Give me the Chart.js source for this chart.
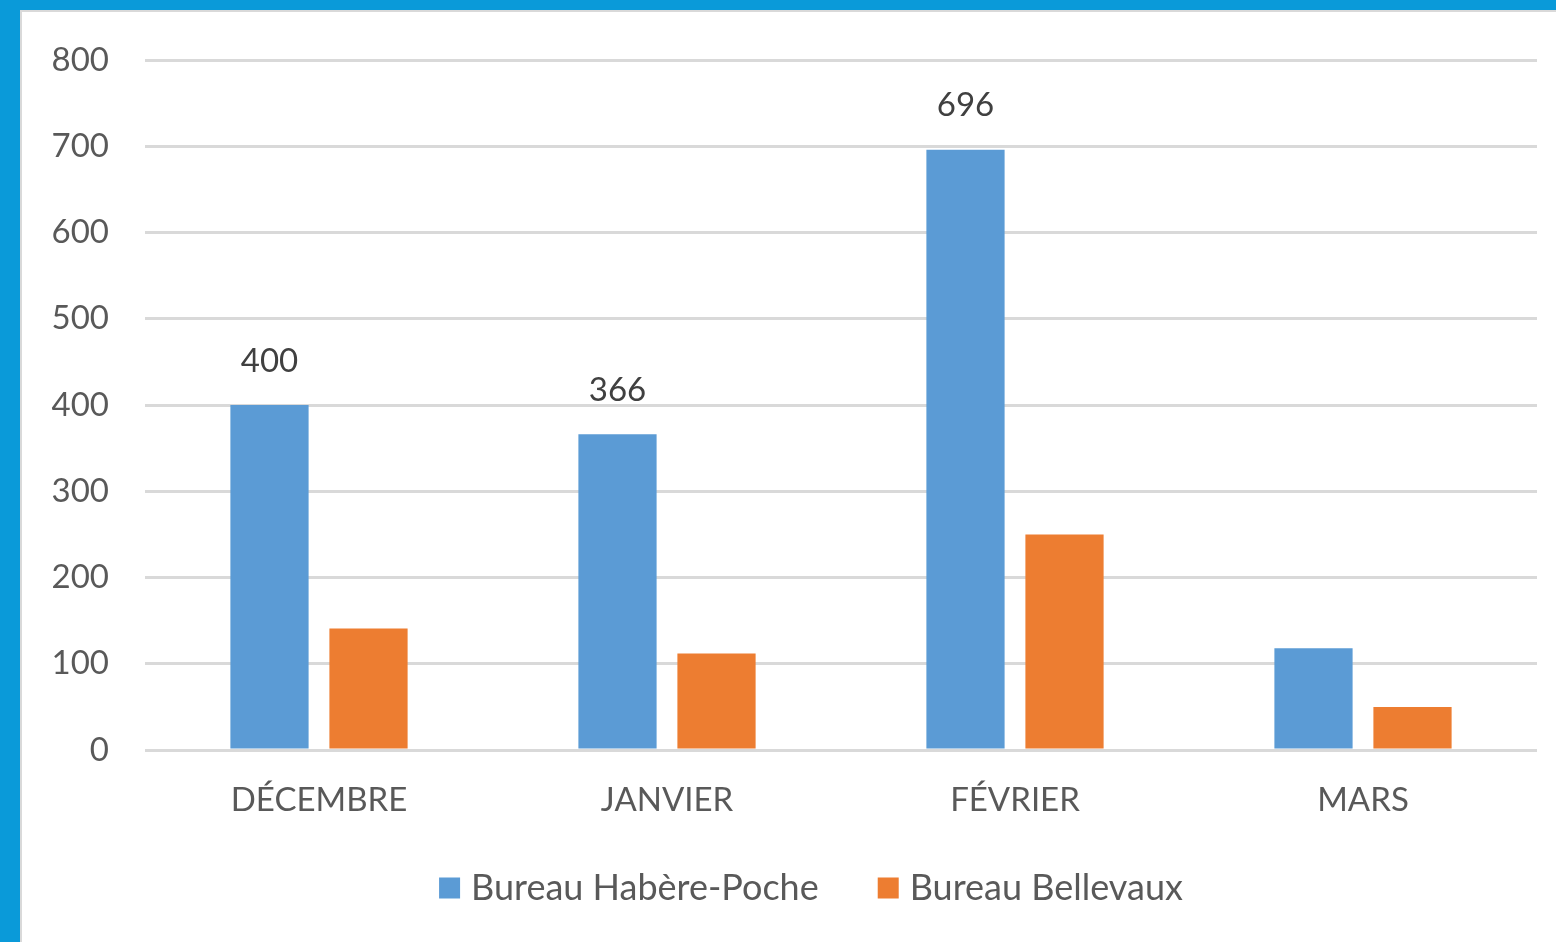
<!DOCTYPE html>
<html>
<head>
<meta charset="utf-8">
<script src="https://cdn.jsdelivr.net/npm/chart.js@4.4.1/dist/chart.umd.min.js"></script>
<style>
  html, body { margin: 0; padding: 0; width: 1556px; height: 942px; overflow: hidden; background: #0A9AD9; }
  #frame { position: absolute; left: 20px; top: 10px; width: 1536px; height: 932px; background: #D9D9D9; }
  #inner { position: absolute; left: 2px; top: 2px; width: 1534px; height: 930px; background: #FFFFFF; }
  canvas { display: block; }
</style>
</head>
<body>
<div id="frame"><div id="inner"><canvas id="c" width="1534" height="930"></canvas></div></div>
<script>
const categories = ["DÉCEMBRE", "JANVIER", "FÉVRIER", "MARS"];
const seriesNames = ["Bureau Habère-Poche", "Bureau Bellevaux"];
const habereValues = [400, 366, 696, 118];
const bellevauxValues = [141, 112, 250, 50];
const habereShowLabel = [true, true, true, false];
const yTicks = [0, 100, 200, 300, 400, 500, 600, 700, 800];

const FONT = "Lato, 'Open Sans', sans-serif";
const TEXT = "#595959";

const valueLabels = {
  id: 'valueLabels',
  afterDatasetsDraw(chart) {
    const ctx = chart.ctx;
    const meta = chart.getDatasetMeta(0);
    ctx.save();
    ctx.font = "33px " + FONT;
    ctx.fillStyle = "#404040";
    ctx.textAlign = "center";
    ctx.textBaseline = "middle";
    meta.data.forEach((bar, i) => {
      if (habereShowLabel[i]) {
        ctx.fillText(String(habereValues[i]), bar.x, bar.y - 44);
      }
    });
    ctx.restore();
  }
};

const customLegend = {
  id: 'customLegend',
  afterDraw(chart) {
    const ctx = chart.ctx;
    ctx.save();
    ctx.font = "36px " + FONT;
    const box = 21, gap = 11, itemGap = 59;
    const ds = chart.data.datasets;
    const widths = ds.map(d => ctx.measureText(d.label).width);
    let total = 0;
    widths.forEach((w, i) => { total += box + gap + w; if (i < widths.length - 1) total += itemGap; });
    let x = 789 - total / 2;
    const yc = 876;
    ds.forEach((d, i) => {
      ctx.fillStyle = d.backgroundColor;
      ctx.fillRect(x, yc - box / 2, box, box);
      x += box + gap;
      ctx.fillStyle = TEXT;
      ctx.textAlign = "left";
      ctx.textBaseline = "middle";
      ctx.fillText(d.label, x, yc);
      x += widths[i] + itemGap;
    });
    ctx.restore();
  }
};

new Chart(document.getElementById('c'), {
  type: 'bar',
  data: {
    labels: categories,
    datasets: [
      { label: seriesNames[0], data: habereValues, backgroundColor: "#5B9BD5",
        categoryPercentage: 0.569, barPercentage: 0.79 },
      { label: seriesNames[1], data: bellevauxValues, backgroundColor: "#ED7D31",
        categoryPercentage: 0.569, barPercentage: 0.79 }
    ]
  },
  options: {
    responsive: false,
    animation: false,
    devicePixelRatio: 1,
    layout: { padding: { top: 48, right: 19, left: 0, bottom: 0 } },
    plugins: { legend: { display: false }, tooltip: { enabled: false } },
    scales: {
      x: {
        grid: { display: false, drawTicks: false },
        border: { display: false },
        ticks: { color: TEXT, font: { family: FONT, size: 33 }, padding: 31 },
        afterFit(scale) { scale.height = 192; }
      },
      y: {
        min: 0, max: 800,
        afterBuildTicks(scale) { scale.ticks = yTicks.map(v => ({ value: v })); },
        grid: { color: "#D9D9D9", lineWidth: 3, drawTicks: false },
        border: { display: false },
        ticks: { color: TEXT, font: { family: FONT, size: 33 }, padding: 36 },
        afterFit(scale) { scale.width = 123; scale.paddingTop = 20; scale.paddingBottom = 20; }
      }
    }
  },
  plugins: [valueLabels, customLegend]
});
</script>
</body>
</html>
